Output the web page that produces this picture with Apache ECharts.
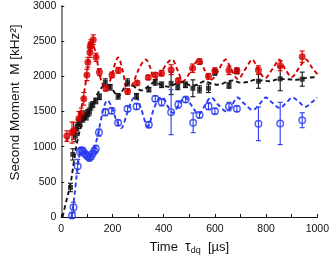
<!DOCTYPE html>
<html><head><meta charset="utf-8">
<script src="https://cdn.jsdelivr.net/npm/echarts@6/dist/echarts.min.js"></script>
<style>html,body{margin:0;padding:0;background:#fff}#c{width:332px;height:260px}</style>
</head><body><div id="c"></div>
<script>
// ---- data ----
const xTickLabels = [0, 200, 400, 600, 800, 1000];
const yTickLabels = [0, 500, 1000, 1500, 2000, 2500, 3000];

const redT   = [22, 42, 48, 69, 78, 88, 100, 104, 112, 113, 116, 125, 136, 149, 174, 198, 223, 259, 296, 340, 367, 392, 429, 457, 513, 540, 575, 600, 655, 686, 770, 855, 941];
const redM   = [1150, 1200, 1225, 1400, 1470, 1680, 2020, 2200, 2340, 2420, 2460, 2520, 2270, 2060, 1830, 2020, 2085, 1785, 1905, 1985, 2020, 2045, 2095, 1940, 2115, 2210, 2000, 2080, 2085, 2080, 2090, 2150, 2280];
const redErr = [75, 150, 120, 100, 80, 90, 80, 70, 70, 60, 60, 70, 60, 50, 40, 40, 40, 40, 30, 30, 30, 40, 70, 30, 60, 40, 40, 40, 60, 40, 60, 70, 80];

const blackT   = [36, 45, 55, 61, 66, 73, 79, 85, 92, 98, 104, 110, 116, 123, 135, 149, 172, 191, 222, 259, 294, 342, 367, 392, 429, 455, 485, 514, 540, 575, 600, 655, 686, 770, 855, 941];
const blackM   = [420, 890, 1150, 1250, 1320, 1340, 1410, 1400, 1450, 1430, 1480, 1500, 1570, 1600, 1650, 1710, 1915, 1845, 1716, 1914, 1716, 1810, 1914, 1880, 1900, 1850, 1880, 1830, 1815, 1830, 2055, 1870, 2075, 1930, 1965, 1960];
const blackErr = [60, 80, 80, 60, 60, 50, 50, 50, 60, 50, 50, 50, 50, 40, 40, 40, 50, 40, 40, 50, 40, 30, 40, 40, 160, 40, 40, 120, 50, 60, 40, 40, 40, 100, 170, 100];

const blueT   = [42, 48, 64, 73, 79, 85, 92, 98, 104, 110, 116, 122, 129, 135, 147, 172, 197, 222, 259, 294, 342, 367, 392, 429, 457, 486, 515, 540, 575, 600, 655, 686, 770, 855, 941];
const blueM   = [20, 140, 720, 930, 950, 940, 900, 880, 860, 840, 860, 900, 940, 970, 1200, 1490, 1510, 1340, 1540, 1570, 1310, 1683, 1630, 1490, 1600, 1669, 1339, 1450, 1575, 1504, 1570, 1538, 1325, 1330, 1376];
const blueErr = [40, 70, 100, 50, 40, 40, 40, 40, 40, 40, 40, 40, 40, 50, 50, 50, 40, 40, 40, 40, 40, 40, 50, 320, 50, 40, 140, 40, 50, 40, 60, 40, 240, 300, 106];

const redFitT = [18, 40, 60, 80, 95, 110, 122, 135, 150, 165, 178, 195, 210, 222, 240, 259, 280, 305, 330, 348, 364, 385, 410, 432, 455, 476, 500, 520, 537, 560, 585, 610, 628, 641, 665, 690, 715, 732, 745, 770, 797, 820, 838, 850, 875, 900, 925, 942, 955, 980, 1000];
const redFitM = [1080, 1180, 1320, 1580, 1900, 2300, 2460, 2320, 2020, 1860, 1830, 1990, 2180, 2270, 2080, 1790, 1900, 2120, 2240, 2120, 1950, 2020, 2170, 2240, 2080, 1930, 2040, 2170, 2240, 2090, 1950, 2060, 2180, 2240, 2090, 1960, 2080, 2180, 2240, 2090, 1975, 2080, 2180, 2240, 2100, 1990, 2100, 2190, 2240, 2120, 2030];

const blackFitT = [5, 20, 36, 50, 61, 79, 100, 120, 140, 160, 175, 200, 222, 245, 265, 290, 315, 340, 364, 390, 420, 450, 478, 505, 530, 560, 585, 615, 645, 670, 700, 730, 755, 785, 815, 850, 880, 915, 950, 1000];
const blackFitM = [0, 230, 470, 800, 1050, 1300, 1450, 1580, 1740, 1850, 1870, 1810, 1710, 1830, 1900, 1840, 1800, 1860, 1915, 1880, 1850, 1900, 1920, 1870, 1880, 1930, 1900, 1880, 1920, 1940, 1910, 1920, 1950, 1940, 1930, 1960, 1960, 1950, 1975, 1990];

const blueFitT = [40, 48, 56, 64, 72, 80, 95, 110, 125, 140, 155, 170, 180, 195, 215, 234, 255, 275, 290, 310, 338, 360, 380, 395, 415, 435, 460, 483, 510, 537, 560, 585, 612, 645, 668, 688, 715, 748, 775, 799, 825, 854, 880, 903, 930, 953, 978, 1000];
const blueFitM = [0, 200, 450, 720, 880, 930, 900, 880, 950, 1120, 1380, 1600, 1660, 1580, 1380, 1260, 1450, 1650, 1720, 1560, 1290, 1520, 1680, 1700, 1580, 1480, 1600, 1700, 1580, 1460, 1580, 1700, 1600, 1500, 1600, 1700, 1610, 1520, 1610, 1700, 1620, 1550, 1630, 1700, 1630, 1566, 1630, 1700];

// ---- helpers ----
const RED = '#d40000', BLACK = '#141414', BLUE = '#2b3cf0';
const pairs = (t, m) => t.map((x, i) => [x, m[i]]);
const errRows = (t, m, e) => t.map((x, i) => [x, m[i] - e[i], m[i] + e[i]]);

function errSeries(t, m, e, color, z) {
  return {
    type: 'custom', z: z, silent: true,
    data: errRows(t, m, e),
    encode: { x: 0, y: [1, 2] },
    renderItem: function (params, api) {
      const x = api.value(0), lo = api.value(1), hi = api.value(2);
      const p1 = api.coord([x, lo]), p2 = api.coord([x, hi]);
      const w = 2.5;
      const st = { stroke: color, lineWidth: 1.1 };
      return {
        type: 'group', children: [
          { type: 'line', shape: { x1: p1[0], y1: p1[1], x2: p2[0], y2: p2[1] }, style: st },
          { type: 'line', shape: { x1: p1[0] - w, y1: p1[1], x2: p1[0] + w, y2: p1[1] }, style: st },
          { type: 'line', shape: { x1: p2[0] - w, y1: p2[1], x2: p2[0] + w, y2: p2[1] }, style: st }
        ]
      };
    }
  };
}
function fitSeries(t, m, color, z) {
  return {
    type: 'line', z: z, data: pairs(t, m), showSymbol: false, smooth: 0.35, silent: true,
    lineStyle: { color: color, width: 1.9, type: [4.5, 3] }
  };
}

const chart = echarts.init(document.getElementById('c'), null, { renderer: 'canvas' });
const FONT = 'Liberation Sans';
chart.setOption({
  animation: false,
  grid: { left: 52, right: 11, top: 6, bottom: 42 },
  xAxis: {
    type: 'value', min: 0, max: 1000, interval: 100,
    name: 'Time  {t|τ}{s|dq}  [µs]', nameLocation: 'middle', nameGap: 23,
    nameTextStyle: { color: '#111', fontFamily: FONT, fontSize: 13,
      rich: { t: { fontSize: 14, fontFamily: FONT, color: '#111' }, s: { fontSize: 9, fontFamily: FONT, color: '#111', verticalAlign: 'bottom', padding: [6, 0, 0, 0] } } },
    axisLine: { lineStyle: { color: '#111', width: 1 } },
    axisTick: { inside: true, length: 3, lineStyle: { color: '#111' } },
    axisLabel: { color: '#111', fontFamily: FONT, fontSize: 10.5, margin: 7,
      formatter: v => xTickLabels.includes(v) ? String(v) : '' },
    splitLine: { show: false }
  },
  yAxis: {
    type: 'value', min: 0, max: 3000, interval: 500,
    name: 'Second Moment  M [kHz²]', nameLocation: 'middle', nameGap: 36,
    nameTextStyle: { color: '#111', fontFamily: FONT, fontSize: 13.5, padding: [0, 0, 0, 18] },
    axisLine: { lineStyle: { color: '#8c8c8c', width: 2 } },
    axisTick: { inside: true, length: 3, lineStyle: { color: '#111' } },
    axisLabel: { color: '#111', fontFamily: FONT, fontSize: 10.5, margin: 5,
      formatter: v => yTickLabels.includes(v) ? String(v) : '' },
    splitLine: { show: false }
  },
  series: [
    fitSeries(redFitT, redFitM, RED, 2),
    fitSeries(blackFitT, blackFitM, BLACK, 2),
    fitSeries(blueFitT, blueFitM, BLUE, 2),
    errSeries(blackT, blackM, blackErr, BLACK, 3),
    errSeries(redT, redM, redErr, RED, 3),
    errSeries(blueT, blueM, blueErr, BLUE, 3),
    { type: 'scatter', z: 4, data: pairs(blackT, blackM), symbol: 'rect', symbolSize: 5, itemStyle: { color: BLACK } },
    { type: 'scatter', z: 5, data: pairs(redT, redM), symbol: 'circle', symbolSize: 7, itemStyle: { color: RED } },
    { type: 'scatter', z: 6, data: pairs(blueT, blueM), symbol: 'circle', symbolSize: 6.5,
      itemStyle: { color: 'rgba(255,255,255,0)', borderColor: BLUE, borderWidth: 1.5 } }
  ]
});
</script></body></html>
